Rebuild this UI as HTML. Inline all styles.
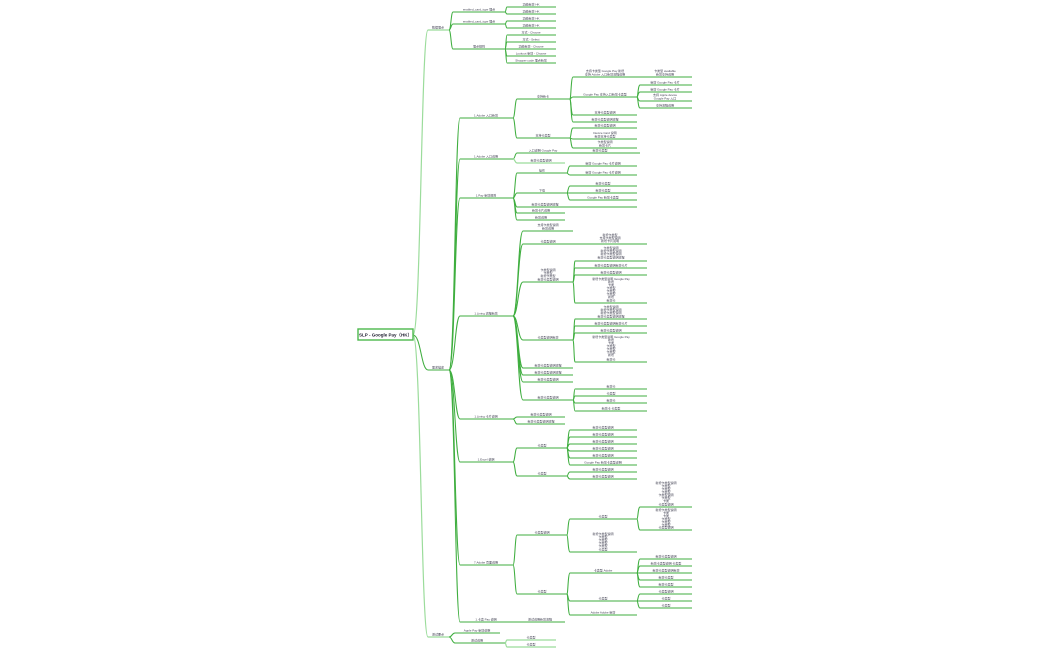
<!DOCTYPE html>
<html><head><meta charset="utf-8"><style>
html,body{margin:0;padding:0;background:#fff;}
svg{display:block}
text{font-family:"Liberation Sans","Noto Sans CJK SC",sans-serif;font-size:3px;fill:#445;text-anchor:middle}
path{fill:none;stroke:#3fae3f;stroke-width:1.05}
.l{stroke:#9bdc9b;stroke-width:1.2}
</style></head><body>
<svg width="1050" height="650" viewBox="0 0 1050 650" xmlns="http://www.w3.org/2000/svg">
<!-- root -->
<path d="M413 335 C421 335 421 30 428 30 H449" class="l"/>
<path d="M413 335 C421 335 421 370 428 370 H449"/>
<path d="M413 335 C421 335 421 637 428 637 H449" class="l"/>
<rect x="358" y="329" width="55" height="11" fill="#fff" stroke="#4cb84c" stroke-width="1.4"/>
<text x="385.5" y="336.5" style="font-size:4.5px;font-weight:bold;fill:#223">SLP - Google Pay（HK）</text>
<text x="438" y="28.5">数据埋点</text>
<text x="438" y="368.5">需求描述</text>
<text x="438" y="635.5">测试要点</text>

<!-- top branch -->
<path d="M449 30 C451 30 451 12 453 12 H505"/><text x="479" y="10.5">enabled_card_type 埋点</text>
<path d="M449 30 C451 30 451 24 453 24 H505"/><text x="479" y="22.5">enabled_card_type 埋点</text>
<path d="M449 30 C451 30 451 49 453 49 H505"/><text x="479" y="47.5">埋点规则</text>
<path d="M505 12 C506 12 506 7 507 7 H556"/><text x="531" y="5.5">功能新增 HK</text>
<path d="M505 12 C506 12 506 14 507 14 H556"/><text x="531" y="12.5">功能新增 HK</text>
<path d="M505 24 C506 24 506 21 507 21 H556"/><text x="531" y="19.5">功能新增 HK</text>
<path d="M505 24 C506 24 506 28 507 28 H556"/><text x="531" y="26.5">功能新增 HK</text>
<path d="M505 49 C506 49 506 35 507 35 H556"/><text x="531" y="33.5">方式 - Choose</text>
<path d="M505 49 C506 49 506 42 507 42 H556"/><text x="531" y="40.5">方式 - Select</text>
<path d="M505 49 C506 49 506 49 507 49 H556"/><text x="531" y="47.5">功能新增 - Choose</text>
<path d="M505 49 C506 49 506 56 507 56 H556"/><text x="531" y="54.5">Lookout 新增 - Choose</text>
<path d="M505 49 C506 49 506 63 507 63 H556"/><text x="531" y="61.5">Shopper code 埋点新增</text>

<!-- middle L2 -->
<path d="M449 370 C455 370 455 118 460 118 H513"/><text x="486" y="116.5">1.Adobe 入口新增</text>
<path d="M449 370 C455 370 455 159 460 159 H513"/><text x="486" y="157.5">1.Adobe 入口说明</text>
<path d="M449 370 C455 370 455 198 460 198 H513"/><text x="486" y="196.5">1.Pay 新增规则</text>
<path d="M449 370 C455 370 455 316 460 316 H513"/><text x="486" y="314.5">1.Lining 流程新增</text>
<path d="M449 370 C455 370 455 419 460 419 H513"/><text x="486" y="417.5">1.Lining 卡片说明</text>
<path d="M449 370 C455 370 455 462 460 462 H513"/><text x="486" y="460.5">1.Excel 说明</text>
<path d="M449 370 C455 370 455 565 460 565 H513"/><text x="486" y="563.5">7.Adobe 页面说明</text>
<path d="M449 370 C455 370 455 622 460 622 H565"/><text x="486" y="620.5">1.卡类 Pay 说明</text><text x="540" y="620.5">测试说明新增流程</text>

<!-- 1.Adobe -->
<path d="M513 118 C515 118 515 99 517 99 H570"/><text x="543" y="97.5">支持新卡</text>
<path d="M513 118 C515 118 515 138 517 138 H570"/><text x="543" y="136.5">支持卡类型</text>
<path d="M570 99 C571 99 571 77 573 77 H637"/><text x="605" y="72">支持卡类型 Google Pay 新增</text><text x="605" y="75.5">支持 Adobe 入口新增流程说明</text>
<path d="M570 99 C571 99 571 97 573 97 H637"/><text x="605" y="95.5">Google Pay 支持入口新增卡类型</text>
<path d="M570 99 C571 99 571 115 573 115 H637"/><text x="605" y="113.5">支持卡类型说明</text>
<path d="M570 99 C571 99 571 122 573 122 H637"/><text x="605" y="120.5">新增卡类型说明流程</text>
<path d="M637 77 H692"/><text x="665" y="72">卡类型 available</text><text x="665" y="75.5">新增支持说明</text>
<path d="M637 97 C638 97 638 85 640 85 H692"/><text x="665" y="83.5">新增 Google Pay 卡片</text>
<path d="M637 97 C638 97 638 92 640 92 H692"/><text x="665" y="90.5">新增 Google Pay 卡片</text>
<path d="M637 97 C638 97 638 101 640 101 H692"/><text x="665" y="96">支持 Apple device</text><text x="665" y="99.5">Google Pay 入口</text>
<path d="M637 97 C638 97 638 108 640 108 H692"/><text x="665" y="106.5">支持流程说明</text>
<path d="M570 138 C571 138 571 128 573 128 H637"/><text x="605" y="126.5">新增卡类型说明</text>
<path d="M570 138 C571 138 571 139 573 139 H637"/><text x="605" y="134">Device Card 说明</text><text x="605" y="137.5">新增支持卡类型</text>
<path d="M570 138 C571 138 571 148 573 148 H637"/><text x="605" y="143">卡类型说明</text><text x="605" y="146.5">新增卡片</text>

<path d="M513 159 C515 159 515 153 517 153 H640"/><text x="543" y="151.5">入口说明 Google Pay</text><text x="600" y="151.5">新增卡类型</text>
<path d="M513 159 C515 159 515 163 517 163 H565" class="l"/><text x="541" y="161.5">新增卡类型说明</text>

<!-- 1.Pay -->
<path d="M513 198 C515 198 515 173 517 173 H567"/><text x="542" y="171.5">操作</text>
<path d="M513 198 C515 198 515 193 517 193 H567"/><text x="542" y="191.5">下载</text>
<path d="M513 198 C515 198 515 207 517 207 H637"/><text x="545" y="205.5">新增卡类型说明流程</text>
<path d="M513 198 C515 198 515 213 517 213 H565"/><text x="541" y="211.5">新增卡片说明</text>
<path d="M513 198 C515 198 515 220 517 220 H565"/><text x="541" y="218.5">新增说明</text>
<path d="M567 173 C568 173 568 166 570 166 H637"/><text x="603" y="164.5">新增 Google Pay 卡片说明</text>
<path d="M567 173 C568 173 568 175 570 175 H637"/><text x="603" y="173.5">新增 Google Pay 卡片说明</text>
<path d="M567 193 C568 193 568 186 570 186 H637"/><text x="603" y="184.5">新增卡类型</text>
<path d="M567 193 C568 193 568 193 570 193 H637"/><text x="603" y="191.5">新增卡类型</text>
<path d="M567 193 C568 193 568 200 570 200 H637"/><text x="603" y="198.5">Google Pay 新增卡类型</text>

<!-- 1.Lining -->
<path d="M513 316 C518 316 518 231 523 231 H573"/><text x="548" y="226">支持卡类型说明</text><text x="548" y="229.5">新增说明</text>
<path d="M513 316 C518 316 518 244 523 244 H647"/><text x="548" y="242.5">卡类型说明</text>
<text x="610" y="236">新增卡类型</text><text x="610" y="239">支持卡类型说明</text><text x="610" y="242">新增卡片说明</text>
<path d="M513 316 C518 316 518 282 523 282 H573"/><text x="548" y="271">卡类型说明</text><text x="548" y="274">卡类型</text><text x="548" y="277">新增卡类型</text><text x="548" y="280.5">新增卡类型说明</text>
<path d="M513 316 C518 316 518 340 523 340 H573"/><text x="548" y="338.5">卡类型说明新增</text>
<path d="M513 316 C518 316 518 368 523 368 H573"/><text x="548" y="366.5">新增卡类型说明流程</text>
<path d="M513 316 C518 316 518 375 523 375 H573"/><text x="548" y="373.5">新增卡类型说明流程</text>
<path d="M513 316 C518 316 518 382 523 382 H573"/><text x="548" y="380.5">新增卡类型说明</text>
<path d="M513 316 C518 316 518 400 523 400 H573"/><text x="548" y="398.5">新增卡类型说明</text>
<path d="M573 282 C574 282 574 261 575 261 H647"/><text x="611" y="249">卡类型说明</text><text x="611" y="252">新增卡类型说明</text><text x="611" y="255">新增卡类型说明</text><text x="611" y="258.5">新增卡类型说明流程</text>
<path d="M573 282 C574 282 574 268 575 268 H647"/><text x="611" y="266.5">新增卡类型说明新增卡片</text>
<path d="M573 282 C574 282 574 275 575 275 H647"/><text x="611" y="273.5">新增卡类型说明</text>
<path d="M573 282 C574 282 574 303 575 303 H647"/><text x="611" y="280">新增卡类型说明 Google Pay</text><text x="611" y="283">新增</text><text x="611" y="286">卡类</text><text x="611" y="289">卡类型</text><text x="611" y="292">卡类型</text><text x="611" y="295">卡类型</text><text x="611" y="298">新增</text><text x="611" y="301.5">新增卡</text>
<path d="M573 340 C574 340 574 319 575 319 H647"/><text x="611" y="308">卡类型说明</text><text x="611" y="311">新增卡类型说明</text><text x="611" y="314">新增卡类型说明</text><text x="611" y="317.5">新增卡类型说明流程</text>
<path d="M573 340 C574 340 574 326 575 326 H647"/><text x="611" y="324.5">新增卡类型说明新增卡片</text>
<path d="M573 340 C574 340 574 333 575 333 H647"/><text x="611" y="331.5">新增卡类型说明</text>
<path d="M573 340 C574 340 574 362 575 362 H647"/><text x="611" y="338">新增卡类型说明 Google Pay</text><text x="611" y="341">新增</text><text x="611" y="344">卡类</text><text x="611" y="347">卡类型</text><text x="611" y="350">卡类型</text><text x="611" y="353">卡类型</text><text x="611" y="356">新增</text><text x="611" y="360.5">新增卡</text>
<path d="M573 400 C574 400 574 389 575 389 H647"/><text x="611" y="387.5">新增卡</text>
<path d="M573 400 C574 400 574 396 575 396 H647"/><text x="611" y="394.5">卡类型</text>
<path d="M573 400 C574 400 574 403 575 403 H647"/><text x="611" y="401.5">新增卡</text>
<path d="M573 400 C574 400 574 411 575 411 H647"/><text x="611" y="409.5">新增卡 卡类型</text>
<path d="M513 419 C515 419 515 417 517 417 H565"/><text x="541" y="415.5">新增卡类型说明</text>
<path d="M513 419 C515 419 515 424 517 424 H565"/><text x="541" y="422.5">新增卡类型说明流程</text>

<!-- 1.Excel -->
<path d="M513 462 C515 462 515 448 517 448 H567"/><text x="542" y="446.5">卡类型</text>
<path d="M513 462 C515 462 515 476 517 476 H567"/><text x="542" y="474.5">卡类型</text>
<path d="M567 448 C568 448 568 430 570 430 H637"/><text x="603" y="428.5">新增卡类型说明</text>
<path d="M567 448 C568 448 568 437 570 437 H637"/><text x="603" y="435.5">新增卡类型说明</text>
<path d="M567 448 C568 448 568 444 570 444 H637"/><text x="603" y="442.5">新增卡类型说明</text>
<path d="M567 448 C568 448 568 451 570 451 H637"/><text x="603" y="449.5">新增卡类型说明</text>
<path d="M567 448 C568 448 568 458 570 458 H637"/><text x="603" y="456.5">新增卡类型说明</text>
<path d="M567 448 C568 448 568 465 570 465 H637"/><text x="603" y="463.5">Google Pay 新增卡类型说明</text>
<path d="M567 476 C568 476 568 472 570 472 H637"/><text x="603" y="470.5">新增卡类型说明</text>
<path d="M567 476 C568 476 568 479 570 479 H637"/><text x="603" y="477.5">新增卡类型说明</text>

<!-- 7.Adobe -->
<path d="M513 565 C515 565 515 535 517 535 H567"/><text x="542" y="533.5">卡类型说明</text>
<path d="M513 565 C515 565 515 594 517 594 H567"/><text x="542" y="592.5">卡类型</text>
<path d="M567 535 C568 535 568 519 570 519 H637"/><text x="603" y="517.5">卡类型</text>
<path d="M567 535 C568 535 568 552 570 552 H637"/><text x="603" y="535">新增卡类型说明</text><text x="603" y="538">卡类型</text><text x="603" y="541">卡类型</text><text x="603" y="544">卡类型</text><text x="603" y="547">卡类型</text><text x="603" y="550.5">卡类型</text>
<path d="M637 519 C638 519 638 507 640 507 H692"/><text x="666" y="484">新增卡类型说明</text><text x="666" y="487">卡类型</text><text x="666" y="490">卡类型</text><text x="666" y="493">卡类型</text><text x="666" y="496">卡类型说明</text><text x="666" y="499">卡类型</text><text x="666" y="502">卡类</text><text x="666" y="505.5">卡类型说明</text>
<path d="M637 519 C638 519 638 530 640 530 H692"/><text x="666" y="511">新增卡类型说明</text><text x="666" y="514">卡类</text><text x="666" y="517">卡类</text><text x="666" y="520">卡类型</text><text x="666" y="523">卡类型</text><text x="666" y="526">卡类型</text><text x="666" y="528.5">卡类型说明</text>
<path d="M567 594 C568 594 568 573 570 573 H637"/><text x="603" y="571.5">卡类型 Adobe</text>
<path d="M567 594 C568 594 568 601 570 601 H637"/><text x="603" y="599.5">卡类型</text>
<path d="M567 594 C568 594 568 615 570 615 H637"/><text x="603" y="613.5">Adobe Adobe 新增</text>
<path d="M637 573 C638 573 638 559 640 559 H692"/><text x="666" y="557.5">新增卡类型说明</text>
<path d="M637 573 C638 573 638 566 640 566 H692"/><text x="666" y="564.5">新增卡类型说明 卡类型</text>
<path d="M637 573 C638 573 638 573 640 573 H692"/><text x="666" y="571.5">新增卡类型说明新增</text>
<path d="M637 573 C638 573 638 580 640 580 H692"/><text x="666" y="578.5">新增卡类型</text>
<path d="M637 573 C638 573 638 587 640 587 H692"/><text x="666" y="585.5">新增卡类型</text>
<path d="M637 601 C638 601 638 594 640 594 H692"/><text x="666" y="592.5">卡类型说明</text>
<path d="M637 601 C638 601 638 601 640 601 H692"/><text x="666" y="599.5">卡类型</text>
<path d="M637 601 C638 601 638 608 640 608 H692"/><text x="666" y="606.5">卡类型</text>

<!-- bottom -->
<path d="M449 637 C452 637 452 633 455 633 H500"/><text x="477" y="631.5">Apple Pay 新增说明</text>
<path d="M449 637 C452 637 452 643 455 643 H505"/><text x="477" y="641.5">测试说明</text>
<path d="M505 643 C506 643 506 640 507 640 H556" class="l"/><text x="531" y="638.5">卡类型</text>
<path d="M505 643 C506 643 506 647 507 647 H556" class="l"/><text x="531" y="645.5">卡类型</text>
</svg>
</body></html>
